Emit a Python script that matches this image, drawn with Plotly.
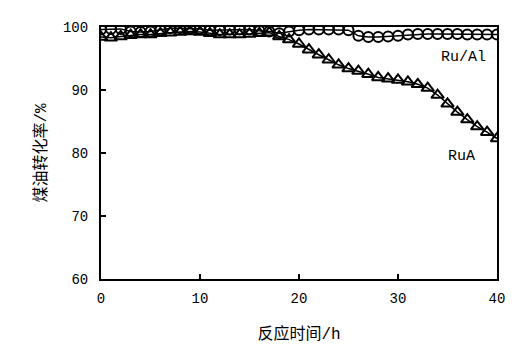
import plotly.graph_objects as go

hours_al = list(range(0, 41))
conv_al = [99.6, 99.7, 99.7, 99.3, 99.2, 99.3, 99.5, 99.8, 99.8, 99.8, 99.7, 99.5, 99.5, 99.6, 99.6, 99.6, 99.4, 99.3, 99.0, 99.3, 99.5,
           99.6, 99.6, 99.6, 99.6, 99.5, 98.6, 98.4, 98.4, 98.5, 98.6, 98.8, 98.9, 98.9, 98.9, 98.9, 98.9, 98.8, 98.8, 98.8, 98.8]

hours_a = list(range(0, 41))
conv_a = [98.4, 98.3, 98.5, 98.7, 98.8, 98.8, 99.0, 99.1, 99.2, 99.3, 99.2, 99.0, 98.8, 98.8, 98.8, 98.9, 99.0, 99.1, 98.5, 98.0, 97.3,
          96.4, 95.6, 94.8, 94.0, 93.4, 93.0, 92.5, 92.0, 91.8, 91.6, 91.3, 90.9, 90.3, 89.2, 87.8, 86.5, 85.3, 84.2, 83.3, 82.3]

FAM = "Liberation Mono, Noto Sans CJK SC"
tick_font = dict(family=FAM, size=14, color="black")
title_font = dict(family=FAM, size=16, color="black")
label_font = dict(family=FAM, size=15, color="black")

fig = go.Figure()
fig.add_trace(go.Scatter(
    x=hours_a, y=conv_a, mode="lines+markers", name="RuA",
    line=dict(color="black", width=1.5),
    marker=dict(symbol="triangle-up-open", size=11, color="black", line=dict(width=2)),
))
fig.add_trace(go.Scatter(
    x=hours_al, y=conv_al, mode="lines+markers", name="Ru/Al",
    line=dict(color="black", width=1.5),
    marker=dict(symbol="circle-open", size=10, color="black", line=dict(width=2)),
))

fig.add_annotation(x=36.6, y=95.1, text="Ru/Al", showarrow=False, font=label_font)
fig.add_annotation(x=36.4, y=79.4, text="RuA", showarrow=False, font=label_font)

fig.update_layout(
    width=526, height=352,
    margin=dict(l=101, r=29, t=27, b=71),
    paper_bgcolor="white", plot_bgcolor="white",
    showlegend=False,
    font=tick_font,
)
fig.update_xaxes(
    range=[0, 40], tickvals=[0, 10, 20, 30, 40], ticks="inside", ticklen=5, tickwidth=2, tickcolor="black",
    showline=True, linecolor="black", linewidth=2, mirror=True, showgrid=False, zeroline=False,
    title=dict(text="反应时间/h", font=title_font, standoff=22),
    tickfont=tick_font, ticklabelstandoff=5,
)
fig.update_yaxes(
    range=[60, 100], tickvals=[60, 70, 80, 90, 100], ticks="inside", ticklen=5, tickwidth=2, tickcolor="black",
    showline=True, linecolor="black", linewidth=2, mirror=True, showgrid=False, zeroline=False,
    title=dict(text="煤油转化率/%", font=title_font, standoff=12),
    tickfont=tick_font, ticklabelstandoff=8,
)

fig.write_html("out.html")
